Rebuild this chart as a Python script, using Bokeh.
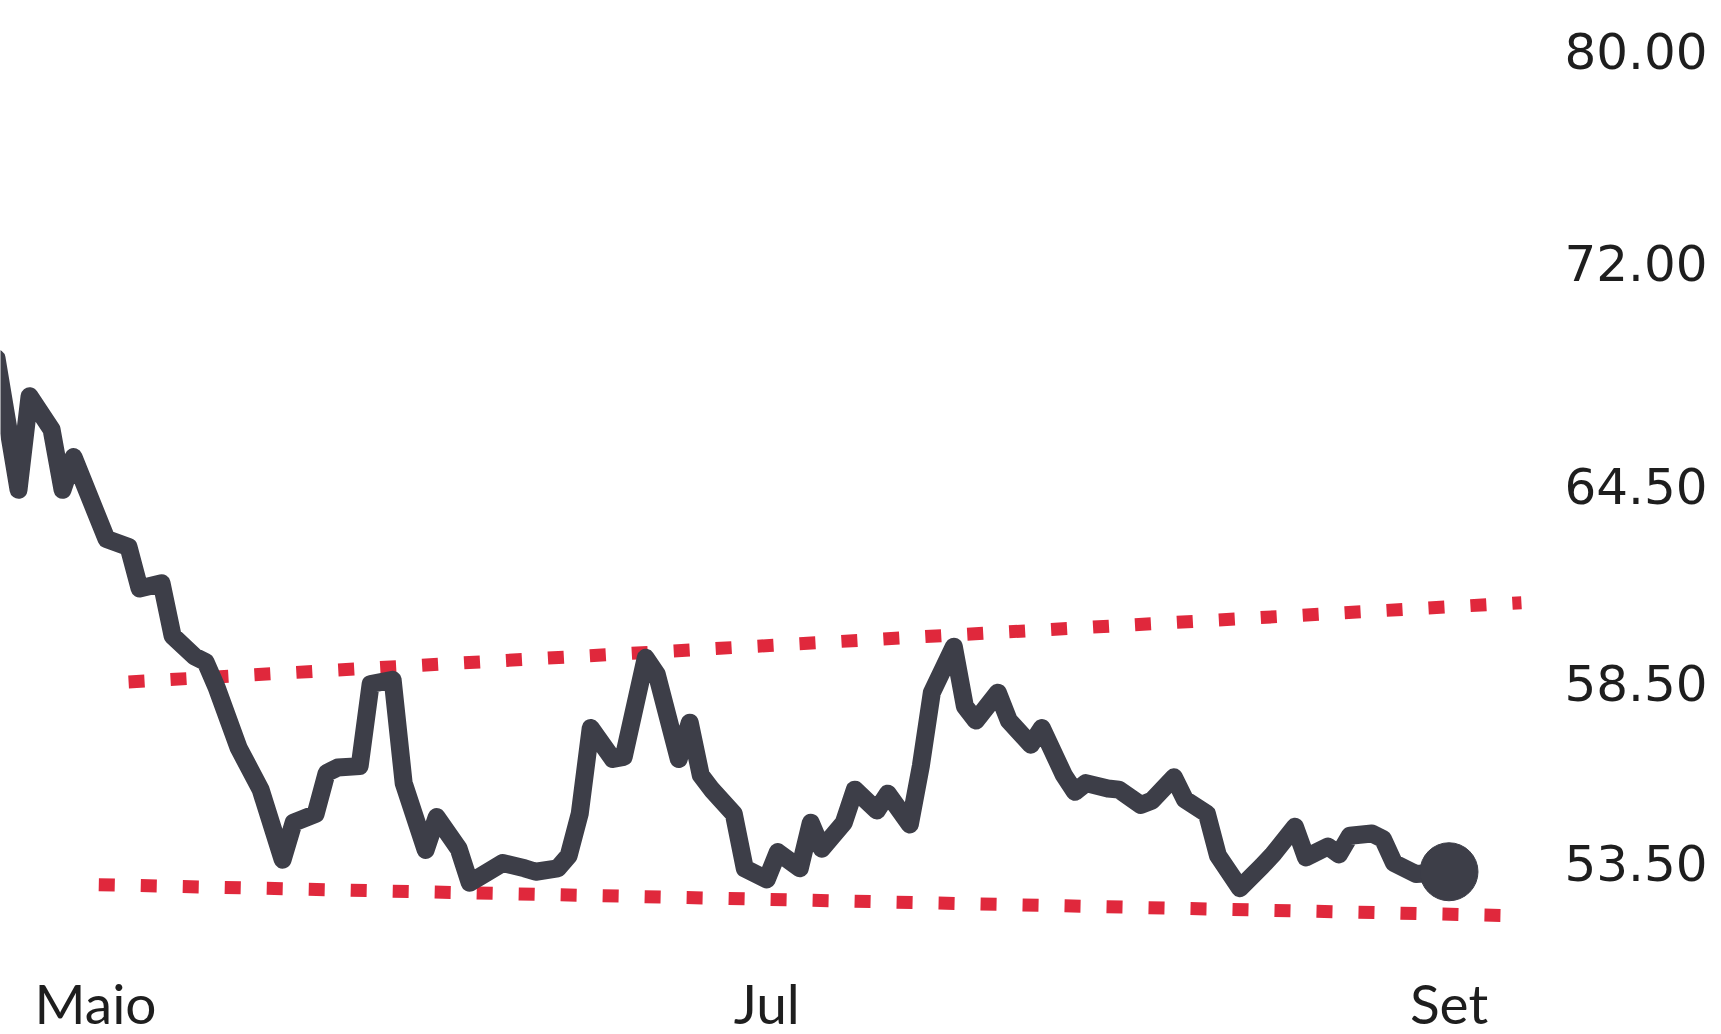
import pandas as pd
from bokeh.plotting import figure
from bokeh.models import Range1d, FixedTicker, PrintfTickFormatter
from bokeh.embed import file_html
from bokeh.resources import INLINE

# ---- data ----
dates = [
    "2024-04-22", "2024-04-24", "2024-04-25", "2024-04-27", "2024-04-28", "2024-04-29",
    "2024-05-01", "2024-05-02", "2024-05-04", "2024-05-05", "2024-05-07", "2024-05-08",
    "2024-05-10", "2024-05-11", "2024-05-12", "2024-05-14", "2024-05-16", "2024-05-18",
    "2024-05-19", "2024-05-21", "2024-05-22", "2024-05-23", "2024-05-25", "2024-05-26",
    "2024-05-28", "2024-05-29", "2024-05-31", "2024-06-01", "2024-06-03", "2024-06-04",
    "2024-06-05", "2024-06-07", "2024-06-09", "2024-06-10", "2024-06-12", "2024-06-13",
    "2024-06-14", "2024-06-15", "2024-06-17", "2024-06-18", "2024-06-20", "2024-06-21",
    "2024-06-23", "2024-06-24", "2024-06-25", "2024-06-26", "2024-06-28", "2024-06-29",
    "2024-07-01", "2024-07-02", "2024-07-04", "2024-07-05", "2024-07-06", "2024-07-08",
    "2024-07-09", "2024-07-11", "2024-07-12", "2024-07-14", "2024-07-15", "2024-07-16",
    "2024-07-18", "2024-07-19", "2024-07-20", "2024-07-22", "2024-07-23", "2024-07-25",
    "2024-07-26", "2024-07-28", "2024-07-29", "2024-07-30", "2024-08-01", "2024-08-02",
    "2024-08-04", "2024-08-05", "2024-08-07", "2024-08-08", "2024-08-10", "2024-08-11",
    "2024-08-13", "2024-08-15", "2024-08-16", "2024-08-18", "2024-08-19", "2024-08-21",
    "2024-08-22", "2024-08-23", "2024-08-25", "2024-08-26", "2024-08-27", "2024-08-29",
    "2024-09-01",
]
prices = [
    68.70, 64.37, 67.42, 66.32, 64.37, 65.42,
    63.67, 62.82, 62.57, 61.30, 61.46, 59.88,
    59.27, 59.11, 58.37, 56.65, 55.49, 53.60,
    54.59, 54.83, 55.95, 56.10, 56.14, 58.47,
    58.59, 55.67, 53.86, 54.74, 53.89, 52.99,
    53.16, 53.51, 53.37, 53.28, 53.37, 53.71,
    54.83, 57.21, 56.34, 56.40, 59.23, 58.75,
    56.34, 57.36, 55.89, 55.49, 54.83, 53.37,
    53.08, 53.80, 53.37, 54.59, 53.89, 54.59,
    55.49, 54.92, 55.38, 54.54, 56.14, 58.22,
    59.56, 57.83, 57.42, 58.22, 57.42, 56.74,
    57.21, 55.89, 55.43, 55.67, 55.52, 55.49,
    55.07, 55.19, 55.83, 55.22, 54.83, 53.71,
    52.85, 53.43, 53.74, 54.48, 53.66, 53.95,
    53.74, 54.24, 54.30, 54.15, 53.51, 53.22,
    53.28,
]

upper_dates = ["2024-05-04 00:00", "2024-09-07 14:00"]
upper_vals = [58.53, 60.87]
lower_dates = ["2024-05-01 07:00", "2024-09-07 14:00"]
lower_vals = [52.94, 52.13]

y_ticks = [53.5, 58.5, 64.5, 72.0, 80.0]
x_tick_dates = ["2024-05-01", "2024-07-01", "2024-09-01"]
x_tick_labels = ["Maio", "Jul", "Set"]

# ---- styling ----
LINE_COLOR = "#3d3e48"
RED = "#e0283c"
TEXT = "#1e1e1e"

x = pd.to_datetime(dates)
origin = pd.Timestamp("2024-05-01")
x_start = origin - pd.Timedelta(days=8.64)
x_end = origin + pd.Timedelta(days=129.68)

p = figure(
    frame_width=1522, frame_height=927,
    x_axis_type="datetime", y_axis_type="log", y_axis_location="right",
    x_range=Range1d(x_start, x_end),
    y_range=Range1d(51.83, 82.01),
    output_backend="svg", toolbar_location=None,
    min_border_left=0, min_border_top=0, min_border_right=0, min_border_bottom=0,
)
p.outline_line_color = None
p.background_fill_color = "white"
p.border_fill_color = "white"
p.xgrid.visible = False
p.ygrid.visible = False

p.line(pd.to_datetime(upper_dates), upper_vals, line_width=13, line_dash="16 26",
       line_cap="butt", color=RED)
p.line(pd.to_datetime(lower_dates), lower_vals, line_width=13, line_dash="16 26",
       line_cap="butt", color=RED)
p.line(x, prices, line_width=18, color=LINE_COLOR, line_join="round", line_cap="round")
p.scatter([x[-1]], [prices[-1]], size=58, color=LINE_COLOR)

# x axis
xt = [int(pd.Timestamp(d).value // 10**6) for d in x_tick_dates]
p.xaxis.ticker = FixedTicker(ticks=xt)
p.xaxis.major_label_overrides = {t: lab for t, lab in zip(xt, x_tick_labels)}
p.xaxis.axis_line_color = None
p.xaxis.major_tick_line_color = None
p.xaxis.minor_tick_line_color = None
p.xaxis.major_label_standoff = 36
p.xaxis.major_label_text_font = "Lato"
p.xaxis.major_label_text_font_size = "55px"
p.xaxis.major_label_text_color = TEXT

# y axis
p.yaxis.ticker = FixedTicker(ticks=y_ticks)
p.yaxis.formatter = PrintfTickFormatter(format="%.2f")
p.yaxis.axis_line_color = None
p.yaxis.major_tick_line_color = None
p.yaxis.minor_tick_line_color = None
p.yaxis.major_label_standoff = 36
p.yaxis.major_label_text_font = "DejaVu Sans"
p.yaxis.major_label_text_font_size = "50px"
p.yaxis.major_label_text_color = TEXT

open("out.html", "w").write(file_html(p, INLINE))
